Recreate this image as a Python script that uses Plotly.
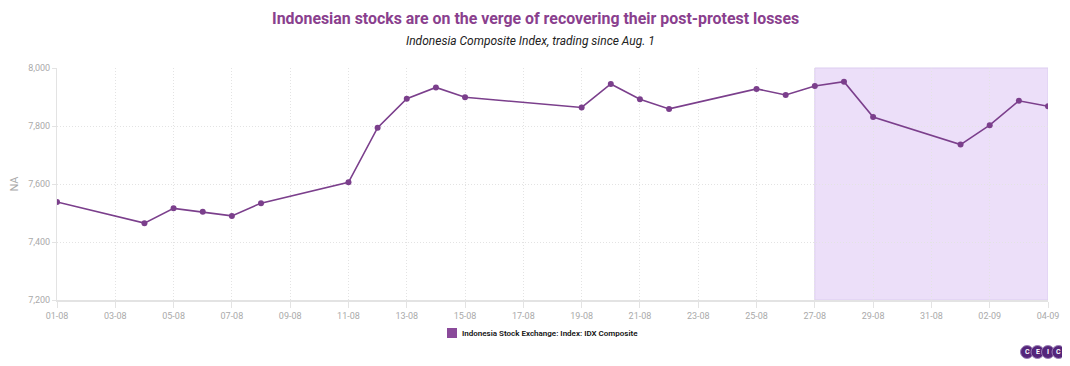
import plotly.graph_objects as go

dates = ["2025-08-01", "2025-08-04", "2025-08-05", "2025-08-06", "2025-08-07", "2025-08-08",
         "2025-08-11", "2025-08-12", "2025-08-13", "2025-08-14", "2025-08-15",
         "2025-08-19", "2025-08-20", "2025-08-21", "2025-08-22",
         "2025-08-25", "2025-08-26", "2025-08-27", "2025-08-28", "2025-08-29",
         "2025-09-01", "2025-09-02", "2025-09-03", "2025-09-04"]
values = [7538, 7465, 7516, 7504, 7490, 7534,
          7606, 7794, 7894, 7933, 7899,
          7864, 7945, 7892, 7859,
          7928, 7907, 7938, 7953, 7831,
          7736, 7803, 7887, 7868]
series_name = "Indonesia Stock Exchange: Index: IDX Composite"
shade_start, shade_end = "2025-08-27", "2025-09-04"
title = "Indonesian stocks are on the verge of recovering their post-protest losses"
subtitle = "Indonesia Composite Index, trading since Aug. 1"
logo_letters = ["C", "E", "I", "C"]

# page body has an 8px default margin; lay out in screen pixels and compensate
OFF = 8
SW, SH = 1070, 366
W, H = SW - OFF, SH - OFF
# plot area in screen pixels
X0, X1, Y0, Y1 = 57, 1048, 68, 300
L, T = X0 - OFF, Y0 - OFF
R, B = W - (X1 - OFF), H - (Y1 - OFF)
PW, PH = X1 - X0, Y1 - Y0

def px(x):
    return (x - X0) / PW

def py(y):
    return (Y1 - y) / PH

purple = "#7b3f8c"
fig = go.Figure()
fig.add_trace(go.Scatter(x=dates, y=values, mode="lines+markers", name=series_name,
                         line=dict(color=purple, width=1.6),
                         marker=dict(color=purple, size=6),
                         showlegend=False, hoverinfo="x+y"))

fig.add_shape(type="rect", xref="x", yref="paper", x0=shade_start, x1=shade_end, y0=0, y1=1,
              fillcolor="#ecdff9", line=dict(color="#dccdf0", width=1), layer="below")

# legend (square + label)
fig.add_shape(type="rect", xref="paper", yref="paper",
              x0=px(447), x1=px(457), y0=py(338), y1=py(328),
              fillcolor="#8a4a9a", line=dict(width=0))
fig.add_annotation(x=px(460), y=py(333), xref="paper", yref="paper", text=series_name,
                   showarrow=False, xanchor="left", yanchor="middle",
                   font=dict(family="Roboto", size=8, color="#111111", weight=600))

# logo circles
cx = [1027, 1037.5, 1048, 1058.5]
for c, letter in zip(cx, logo_letters):
    fig.add_shape(type="circle", xref="paper", yref="paper",
                  x0=px(c - 6.5), x1=px(c + 6.5), y0=py(352 + 6.5), y1=py(352 - 6.5),
                  fillcolor="#55257a", line=dict(color="#9a7fb5", width=1), layer="below")
    fig.add_annotation(x=px(c), y=py(352), xref="paper", yref="paper", text=letter,
                       showarrow=False, xanchor="center", yanchor="middle",
                       font=dict(family="Roboto", size=7, color="white", weight="bold"))

fig.add_annotation(x=px(530), y=py(41), xref="paper", yref="paper", text="<i>" + subtitle + "</i>",
                   showarrow=False, xanchor="center", yanchor="middle",
                   font=dict(family="Roboto", size=12, color="#222222"))
fig.add_annotation(x=px(535), y=py(18), xref="paper", yref="paper", text="<b>" + title + "</b>",
                   showarrow=False, xanchor="center", yanchor="middle",
                   font=dict(family="Roboto", size=15.9, color="#8a3f8e"))

grid_dash = "1px,2px"
fig.update_layout(
    width=W, height=H,
    margin=dict(l=L, r=R, t=T, b=B, autoexpand=False),
    paper_bgcolor="white", plot_bgcolor="white",
    font=dict(family="Roboto", color="#999999"),
    showlegend=False,
    xaxis=dict(type="date", range=["2025-08-01", "2025-09-04"], tick0="2025-08-01",
               dtick=2 * 86400000, tickformat="%d-%m", automargin=False,
               showgrid=True, gridcolor="#e3e3e3", griddash=grid_dash, gridwidth=1,
               showline=True, linecolor="#e3e3e3", linewidth=2,
               ticks="outside", ticklen=6, tickcolor="#e3e3e3",
               tickfont=dict(size=9, color="#aaaaaa"), zeroline=False),
    yaxis=dict(range=[7200, 8000], dtick=200, tickformat=",", automargin=False,
               showgrid=True, gridcolor="#e3e3e3", griddash=grid_dash, gridwidth=1,
               showline=True, linecolor="#e3e3e3", linewidth=1,
               ticks="outside", ticklen=4, tickcolor="#e3e3e3",
               tickfont=dict(size=9, color="#aaaaaa"), zeroline=False,
               title=dict(text="NA", font=dict(size=11, color="#aaaaaa"), standoff=8)),
)

fig.write_html("out.html")
